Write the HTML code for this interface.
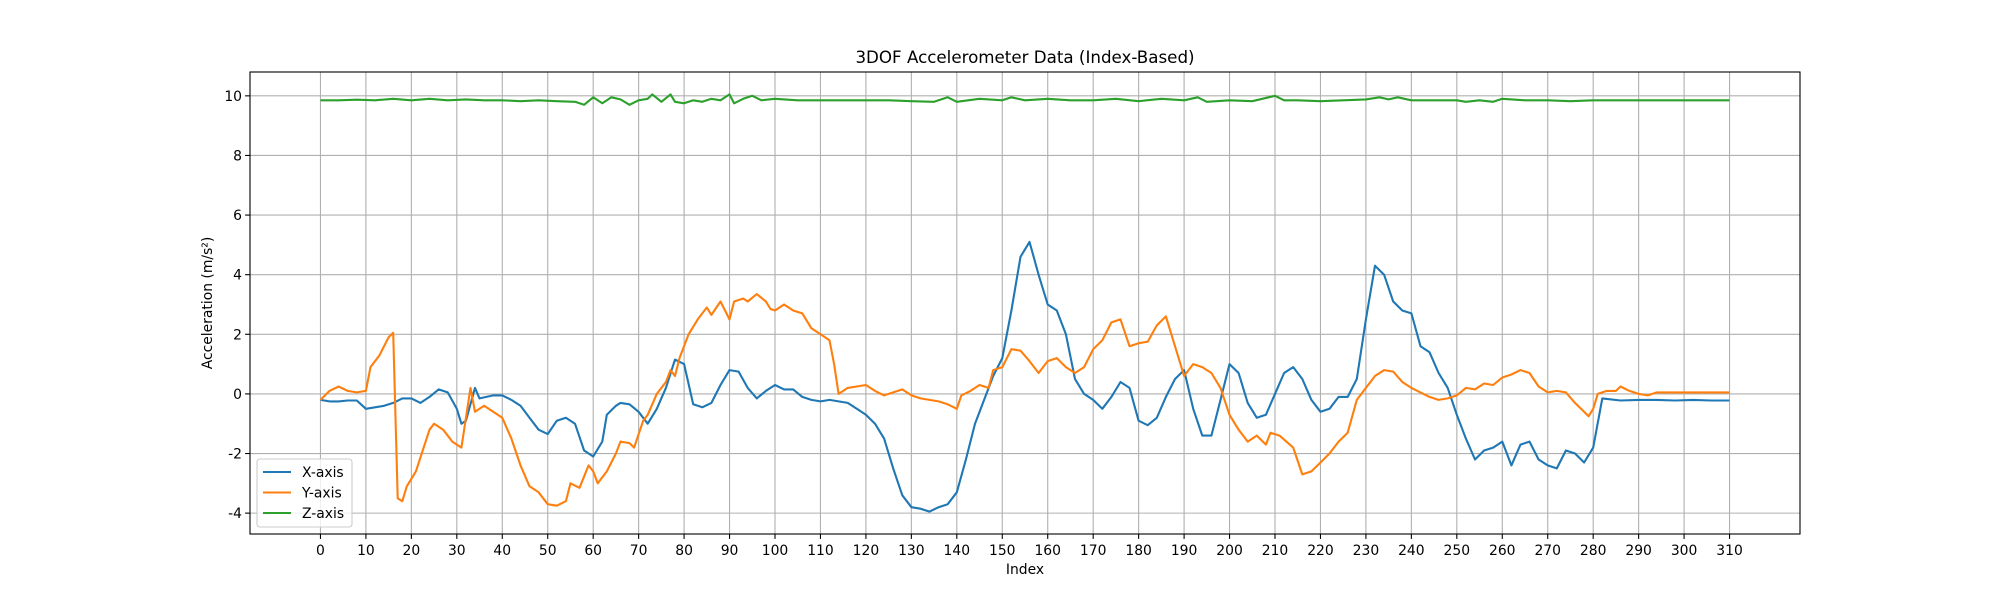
<!DOCTYPE html>
<html><head><meta charset="utf-8"><style>
body{margin:0;background:#fff;width:2000px;height:600px;overflow:hidden}
svg{font-family:"DejaVu Sans","Liberation Sans",sans-serif}
</style></head><body>
<svg id="chart" width="2000" height="600" xmlns="http://www.w3.org/2000/svg"></svg>
<script>
const xTicks=[0,10,20,30,40,50,60,70,80,90,100,110,120,130,140,150,160,170,180,190,200,210,220,230,240,250,260,270,280,290,300,310];
const yTicks=[-4,-2,0,2,4,6,8,10];
const xAxisIdx=[0,2,4,6,8,10,12,14,16,18,20,22,24,26,28,30,31,32,34,35,38,40,42,44,46,48,50,52,54,56,58,60,62,63,65,66,68,70,72,74,76,78,80,82,84,86,88,90,92,94,96,98,100,102,104,106,108,110,112,114,116,118,120,122,124,126,128,130,132,134,136,138,140,142,144,146,148,150,152,154,156,158,160,162,164,166,168,170,172,174,176,178,180,182,184,186,188,190,192,194,196,198,200,202,204,206,208,210,212,214,216,218,220,222,224,226,228,230,232,234,236,238,240,242,244,246,248,250,252,254,256,258,260,262,264,266,268,270,272,274,276,278,280,282,286,290,294,298,302,306,310];
const xAxisVals=[-0.2,-0.25,-0.25,-0.22,-0.22,-0.5,-0.45,-0.4,-0.3,-0.15,-0.15,-0.3,-0.1,0.15,0.05,-0.5,-1.0,-0.9,0.2,-0.15,-0.05,-0.05,-0.2,-0.4,-0.8,-1.2,-1.35,-0.9,-0.8,-1.0,-1.9,-2.1,-1.6,-0.7,-0.4,-0.3,-0.35,-0.6,-1.0,-0.5,0.2,1.15,1.0,-0.35,-0.45,-0.3,0.3,0.8,0.75,0.2,-0.15,0.1,0.3,0.15,0.15,-0.1,-0.2,-0.25,-0.2,-0.25,-0.3,-0.5,-0.7,-1.0,-1.5,-2.5,-3.4,-3.8,-3.85,-3.95,-3.8,-3.7,-3.3,-2.2,-1.0,-0.2,0.6,1.2,2.8,4.6,5.1,4.0,3.0,2.8,2.0,0.5,0.0,-0.2,-0.5,-0.1,0.4,0.2,-0.9,-1.05,-0.8,-0.1,0.5,0.8,-0.5,-1.4,-1.4,-0.2,1.0,0.7,-0.3,-0.8,-0.7,0.0,0.7,0.9,0.5,-0.2,-0.6,-0.5,-0.1,-0.1,0.5,2.5,4.3,4.0,3.1,2.8,2.7,1.6,1.4,0.7,0.2,-0.7,-1.5,-2.2,-1.9,-1.8,-1.6,-2.4,-1.7,-1.6,-2.2,-2.4,-2.5,-1.9,-2.0,-2.3,-1.8,-0.15,-0.22,-0.2,-0.2,-0.22,-0.2,-0.22,-0.22];
const yAxisIdx=[0,2,4,6,8,10,11,13,15,16,17,18,19,21,24,25,27,29,31,33,34,36,40,42,44,46,48,50,52,54,55,57,59,60,61,63,65,66,68,69,71,72,74,76,77,78,79,81,83,85,86,88,90,91,93,94,96,98,99,100,102,104,106,108,110,112,113,114,116,118,120,122,124,126,128,130,132,134,136,138,140,141,143,145,147,148,150,152,154,156,158,160,162,164,166,168,170,172,174,176,178,180,182,184,186,188,190,192,194,196,198,200,202,204,206,208,209,211,214,216,218,220,222,224,226,228,230,232,234,236,238,240,244,246,248,250,252,254,256,258,260,262,264,266,268,270,272,274,276,278,279,280,281,283,285,286,288,290,292,294,298,302,306,310];
const yAxisVals=[-0.2,0.1,0.25,0.1,0.05,0.1,0.9,1.3,1.9,2.05,-3.5,-3.6,-3.1,-2.6,-1.2,-1.0,-1.2,-1.6,-1.8,0.2,-0.6,-0.4,-0.8,-1.5,-2.4,-3.1,-3.3,-3.7,-3.75,-3.6,-3.0,-3.15,-2.4,-2.6,-3.0,-2.6,-2.0,-1.6,-1.65,-1.8,-0.9,-0.7,0.0,0.4,0.8,0.6,1.2,2.0,2.5,2.9,2.65,3.1,2.5,3.1,3.2,3.1,3.35,3.1,2.85,2.8,3.0,2.8,2.7,2.2,2.0,1.8,1.0,0.0,0.2,0.25,0.3,0.1,-0.05,0.05,0.15,-0.05,-0.15,-0.2,-0.25,-0.35,-0.5,-0.05,0.1,0.3,0.2,0.8,0.9,1.5,1.45,1.1,0.7,1.1,1.2,0.9,0.7,0.9,1.5,1.8,2.4,2.5,1.6,1.7,1.75,2.3,2.6,1.6,0.6,1.0,0.9,0.7,0.2,-0.7,-1.2,-1.6,-1.4,-1.7,-1.3,-1.4,-1.8,-2.7,-2.6,-2.3,-2.0,-1.6,-1.3,-0.2,0.2,0.6,0.8,0.75,0.4,0.2,-0.1,-0.2,-0.15,-0.05,0.2,0.15,0.35,0.3,0.55,0.65,0.8,0.7,0.25,0.05,0.1,0.05,-0.3,-0.6,-0.75,-0.5,0.0,0.1,0.1,0.25,0.1,0.0,-0.05,0.05,0.05,0.05,0.05,0.05];
const zAxisIdx=[0,4,8,12,16,20,24,28,32,36,40,44,48,52,56,58,60,62,64,66,68,70,72,73,75,77,78,80,82,84,86,88,90,91,93,95,97,100,105,110,115,120,125,130,135,138,140,145,150,152,155,160,165,170,175,180,185,190,193,195,200,205,210,212,215,220,225,230,233,235,237,240,245,250,252,255,258,260,265,270,275,280,285,290,295,300,305,310];
const zAxisVals=[9.85,9.85,9.87,9.85,9.9,9.85,9.9,9.85,9.88,9.85,9.85,9.82,9.85,9.82,9.8,9.7,9.95,9.75,9.95,9.88,9.7,9.85,9.9,10.05,9.8,10.05,9.8,9.75,9.85,9.8,9.9,9.85,10.05,9.75,9.9,10.0,9.85,9.9,9.85,9.85,9.85,9.85,9.85,9.82,9.8,9.95,9.8,9.9,9.85,9.95,9.85,9.9,9.85,9.85,9.9,9.82,9.9,9.85,9.95,9.8,9.85,9.82,10.0,9.85,9.85,9.82,9.85,9.88,9.95,9.88,9.95,9.85,9.85,9.85,9.8,9.85,9.8,9.9,9.85,9.85,9.82,9.85,9.85,9.85,9.85,9.85,9.85,9.85];
const NS='http://www.w3.org/2000/svg';
const svg=document.getElementById('chart');
const L=250,R=1800,T=72,B=534,xmin=-15.5,xmax=325.5,ymin=-4.7,ymax=10.8;
const sx=v=>L+(v-xmin)/(xmax-xmin)*(R-L);
const sy=v=>B-(v-ymin)/(ymax-ymin)*(B-T);
function mk(tag,attrs,parent){const e=document.createElementNS(NS,tag);for(const k in attrs)e.setAttribute(k,attrs[k]);(parent||svg).appendChild(e);return e;}
const grid=mk('g',{});


xTicks.forEach(t=>{
  const x=sx(t);
  mk('line',{x1:x,x2:x,y1:T,y2:B,stroke:'#b0b0b0','stroke-width':1.1},grid);
  mk('line',{x1:x,x2:x,y1:B,y2:B+4.9,stroke:'#000','stroke-width':1.1});
  const tx=mk('text',{x:x,y:B+21,'text-anchor':'middle','font-size':13.9,fill:'#000'});
  tx.textContent=t;
  
  
});
yTicks.forEach(t=>{
  const y=sy(t);
  mk('line',{x1:L,x2:R,y1:y,y2:y,stroke:'#b0b0b0','stroke-width':1.1},grid);
  mk('line',{x1:L-4.9,x2:L,y1:y,y2:y,stroke:'#000','stroke-width':1.1});
  const tx=mk('text',{x:L-8,y:y+5,'text-anchor':'end','font-size':13.9,fill:'#000'});
  tx.textContent=t;
  
  
});
function line(idx,vals,color,name){
  const d=idx.map((i,k)=>(k?'L':'M')+sx(i).toFixed(1)+','+sy(vals[k]).toFixed(1)).join('');
  const p=mk('path',{d:d,fill:'none',stroke:color,'stroke-width':2.1,'stroke-linejoin':'round'});
  
  
}
line(xAxisIdx,xAxisVals,'#1f77b4','x-axis-series');
line(yAxisIdx,yAxisVals,'#ff7f0e','y-axis-series');
line(zAxisIdx,zAxisVals,'#2ca02c','z-axis-series');
const frame=mk('rect',{x:L,y:T,width:R-L,height:B-T,fill:'none',stroke:'#000','stroke-width':1.1});


const title=mk('text',{x:(L+R)/2,y:63,'text-anchor':'middle','font-size':16.7});
title.textContent='3DOF Accelerometer Data (Index-Based)';


const xl=mk('text',{x:(L+R)/2,y:574,'text-anchor':'middle','font-size':13.9});
xl.textContent='Index';


const yl=mk('text',{x:0,y:0,'text-anchor':'middle','font-size':13.9,transform:'translate(212,'+((T+B)/2)+') rotate(-90)'});
yl.textContent='Acceleration (m/s²)';


const lg=mk('g',{});


mk('rect',{x:257,y:459,width:95,height:68,rx:3,fill:'#fff','fill-opacity':0.8,stroke:'#ccc','stroke-width':1.1},lg);
[['X-axis','#1f77b4'],['Y-axis','#ff7f0e'],['Z-axis','#2ca02c']].forEach((e,k)=>{
  const y=472+k*20.5;
  const g=mk('g',{},lg);
  
  
  mk('line',{x1:263,x2:291,y1:y,y2:y,stroke:e[1],'stroke-width':2.1},g);
  const t=mk('text',{x:302,y:y+5,'font-size':13.9},g);
  t.textContent=e[0];
});
</script>
</body></html>
